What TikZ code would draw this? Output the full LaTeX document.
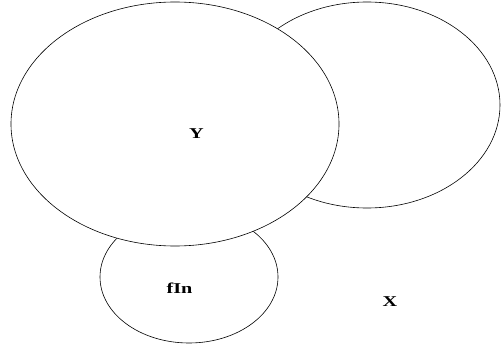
\documentclass[tikz,border=0pt]{standalone}
\usepackage{fontspec}
\setmainfont{Liberation Serif}
\usetikzlibrary{shapes.geometric}
\begin{document}
\begin{tikzpicture}[x=1pt,y=1pt,
  blob/.style={draw, ellipse, fill=white, line width=0.6pt, inner sep=0pt},
  lab/.style={font=\fontsize{15}{15}\selectfont\bfseries, inner sep=0pt, xscale=1.35}]
\useasboundingbox (0,0) rectangle (501,349);
\node[blob, minimum width=266pt, minimum height=206pt] (r) at (367,244) {};
\node[blob, minimum width=178pt, minimum height=132pt] (s) at (189,72) {};
\node[blob, minimum width=328pt, minimum height=244pt] (b) at (175,225) {};
\node[lab] (Y) at (196.5,215) {Y};
\node[lab] (fIn) at (179.5,61) {fIn};
\node[lab] (X) at (390,47) {X};
\end{tikzpicture}
\end{document}
